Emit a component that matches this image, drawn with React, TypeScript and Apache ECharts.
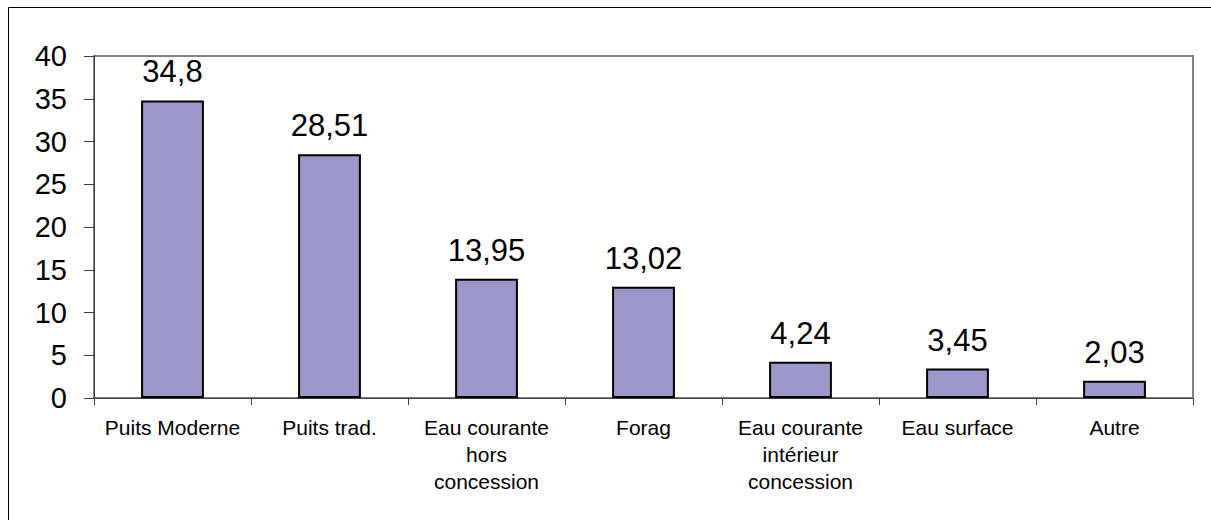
import React, { useEffect, useRef } from "react";
import * as echarts from "echarts";

const categories = [
  "Puits Moderne",
  "Puits trad.",
  "Eau courante\nhors\nconcession",
  "Forag",
  "Eau courante\nintérieur\nconcession",
  "Eau surface",
  "Autre",
];
const values = [34.8, 28.51, 13.95, 13.02, 4.24, 3.45, 2.03];
const yMin = 0;
const yMax = 40;
const yStep = 5;

export default function App() {
  const ref = useRef<HTMLDivElement>(null);
  useEffect(() => {
    if (!ref.current) return;
    const chart = echarts.init(ref.current, null, { renderer: "svg" });
    chart.setOption({
      animation: false,
      backgroundColor: "#ffffff",
      textStyle: { fontFamily: "Liberation Sans, Arial, sans-serif", color: "#000" },
      graphic: [
        {
          type: "rect",
          shape: { x: 8.5, y: 7.5, width: 1230, height: 540 },
          style: { fill: "none", stroke: "#000", lineWidth: 1 },
          silent: true,
          z: 100,
        },
      ],
      grid: {
        left: 94,
        top: 56,
        right: 18,
        bottom: 122,
        show: true,
        borderColor: "#808080",
        borderWidth: 2,
        backgroundColor: "transparent",
      },
      xAxis: {
        type: "category",
        data: categories,
        axisLine: { show: true, lineStyle: { color: "#404040", width: 1 } },
        axisTick: { show: true, length: 7, lineStyle: { color: "#404040" } },
        axisLabel: {
          fontSize: 21,
          color: "#000",
          margin: 16,
          lineHeight: 27,
          align: "center",
          interval: 0,
        },
      },
      yAxis: {
        type: "value",
        min: yMin,
        max: yMax,
        interval: yStep,
        axisLine: { show: true, lineStyle: { color: "#404040", width: 1 } },
        axisTick: { show: true, length: 10, lineStyle: { color: "#404040" } },
        axisLabel: { fontSize: 29, color: "#000", margin: 27 },
        splitLine: { show: false },
      },
      series: [
        {
          type: "bar",
          data: values,
          barWidth: "40%",
          itemStyle: { color: "#9b97c9", borderColor: "#000", borderWidth: 2 },
          label: {
            show: true,
            position: "top",
            distance: 13,
            fontSize: 31,
            color: "#000",
            formatter: (p: any) => String(p.value).replace(".", ","),
          },
        },
      ],
    });
    return () => chart.dispose();
  }, []);
  return (
    <div
      ref={ref}
      style={{ position: "fixed", left: 0, top: 0, width: 1211, height: 520 }}
    />
  );
}
